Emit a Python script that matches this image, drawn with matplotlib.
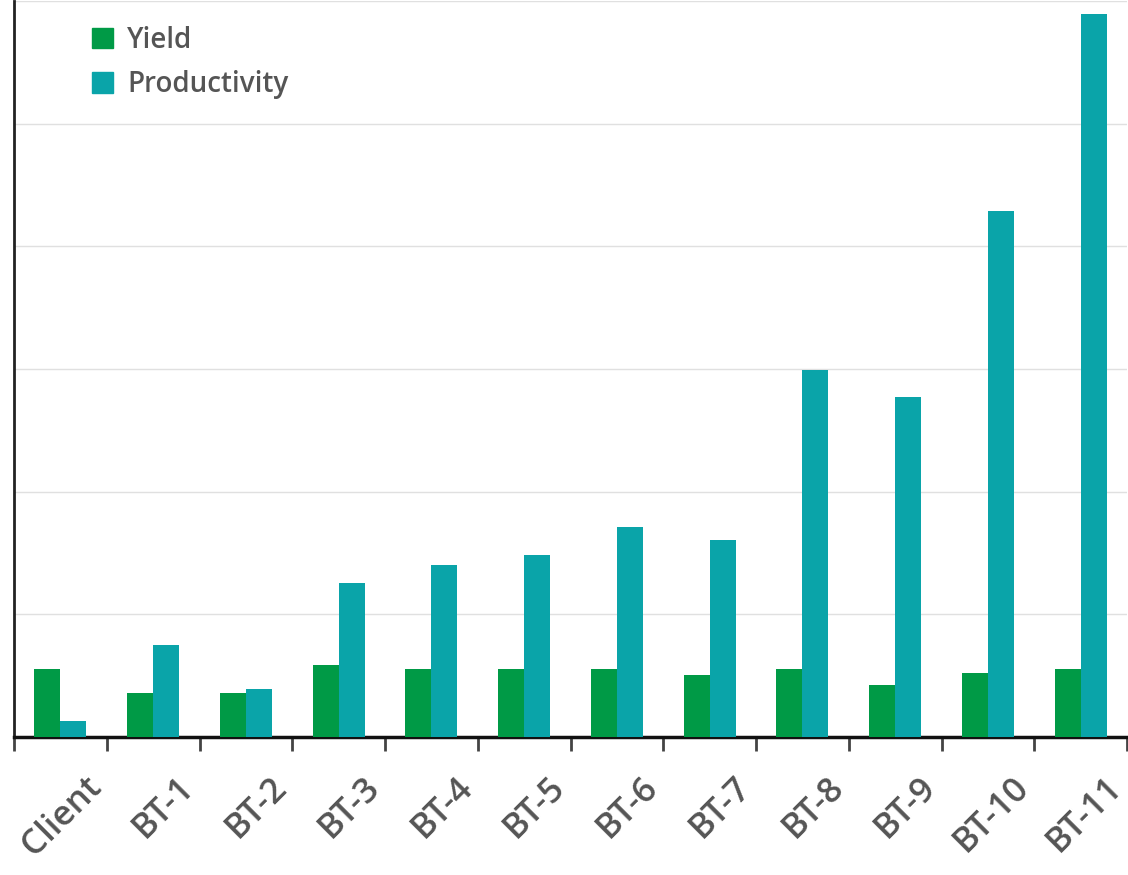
import numpy as np
import matplotlib.pyplot as plt
import matplotlib.transforms as mtransforms
from matplotlib.patches import Patch

categories = ["Client", "BT-1", "BT-2", "BT-3", "BT-4", "BT-5",
              "BT-6", "BT-7", "BT-8", "BT-9", "BT-10", "BT-11"]
yield_vals = [11.1, 7.2, 7.2, 11.7, 11.1, 11.1, 11.1, 10.1, 11.1, 8.5, 10.4, 11.1]
productivity = [2.6, 15.0, 7.8, 25.1, 28.0, 29.6, 34.2, 32.2, 59.9, 55.4, 85.7, 117.9]

GREEN = "#009a46"
TEAL = "#0aa4a9"
TEXT = "#555555"

plt.rcParams['font.family'] = ['Open Sans', 'DejaVu Sans']

fig = plt.figure(figsize=(11.28, 8.75), dpi=100)
ax = fig.add_axes([14 / 1128, 1 - 737 / 875, 1113 / 1128, 736 / 875])

x = np.arange(len(categories))
w = 0.28
ax.bar(x - w / 2, yield_vals, w, color=GREEN, zorder=3)
ax.bar(x + w / 2, productivity, w, color=TEAL, zorder=3)

ax.set_xlim(-0.5, len(categories) - 0.5)
ax.set_ylim(0, 120)
ax.set_yticks(np.arange(0, 121, 20))
ax.yaxis.grid(True, color="#e0e0e0", linewidth=1, zorder=0)
ax.tick_params(axis='y', length=0, labelleft=False)

ax.set_xticks(x)
ax.set_xticks(np.arange(-0.5, len(categories), 1), minor=True)
ax.tick_params(axis='x', which='major', length=0, pad=24)
ax.tick_params(axis='x', which='minor', length=10, width=2, color="#444444")
ax.set_xticklabels(categories, rotation=45, ha='right', rotation_mode='anchor',
                   fontsize=25, color=TEXT, fontweight='semibold')
# push the rotated labels right so their ends sit just past the band centre
offset = mtransforms.ScaledTranslation(24 / 100, 0, fig.dpi_scale_trans)
for lbl in ax.get_xticklabels():
    lbl.set_transform(lbl.get_transform() + offset)

for side in ['top', 'right']:
    ax.spines[side].set_visible(False)
ax.spines['left'].set_linewidth(2)
ax.spines['bottom'].set_linewidth(2.5)
ax.spines['left'].set_color("#222222")
ax.spines['bottom'].set_color("#111111")

handles = [Patch(color=GREEN, label="Yield"), Patch(color=TEAL, label="Productivity")]
leg = ax.legend(handles=handles, loc='upper left', bbox_to_anchor=(0.048, 1.0),
                frameon=False, fontsize=20, handlelength=0.75, handleheight=0.75,
                handletextpad=0.5, labelspacing=0.55)
for t in leg.get_texts():
    t.set_color(TEXT)
    t.set_fontweight('semibold')

fig.savefig("out.png", dpi=100)
